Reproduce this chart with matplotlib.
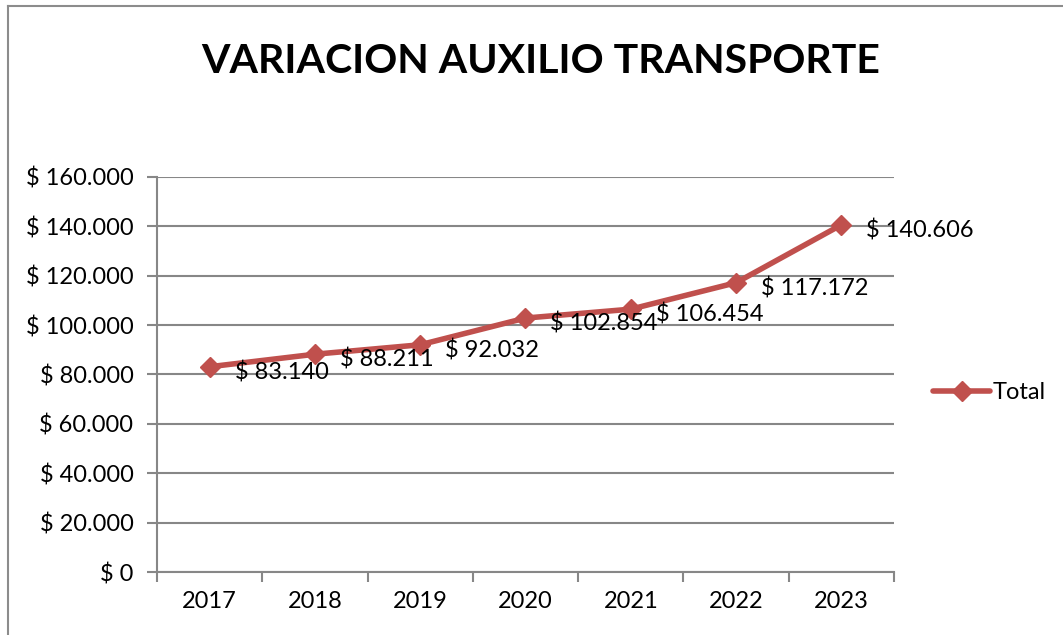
import matplotlib.pyplot as plt
from matplotlib.lines import Line2D
from matplotlib.ticker import FuncFormatter, FixedLocator

plt.rcParams["font.family"] = ["Lato", "DejaVu Sans"]

years = ["2017", "2018", "2019", "2020", "2021", "2022", "2023"]
totals = [83140, 88211, 92032, 102854, 106454, 117172, 140606]

LINE_COLOR = "#C0504D"
GRID_COLOR = "#878787"
FS = 17


def peso(v, pos=None):
    return "$ " + f"{int(v):,}".replace(",", ".")


fig = plt.figure(figsize=(10.63, 6.35), dpi=100)
ax = fig.add_axes([0.1477, 0.0992, 0.841 - 0.1477, 0.7213 - 0.0992])

x = list(range(len(years)))
ax.plot(x, totals, color=LINE_COLOR, lw=4, marker="D", markersize=10,
        label="Total", solid_capstyle="round")

for xi, v in zip(x, totals):
    ax.annotate(peso(v), (xi, v), xytext=(18, -4), textcoords="offset points",
                ha="left", va="center", fontsize=FS)

ax.set_xlim(-0.5, len(years) - 0.5)
ax.set_ylim(0, 160000)
ax.set_yticks(range(0, 160001, 20000))
ax.yaxis.set_major_formatter(FuncFormatter(peso))
ax.xaxis.set_major_locator(FixedLocator([i - 0.5 for i in range(len(years) + 1)]))
ax.xaxis.set_minor_locator(FixedLocator(x))
ax.set_xticklabels([])
ax.set_xticklabels(years, minor=True)
ax.tick_params(axis="x", which="major", length=7, color=GRID_COLOR, width=1.5)
ax.tick_params(axis="x", which="minor", length=0, pad=14, labelsize=FS)
ax.tick_params(axis="y", length=7, color=GRID_COLOR, width=1.5, pad=10, labelsize=FS)

ax.grid(axis="y", color=GRID_COLOR, lw=1.5)
ax.set_axisbelow(True)
for s in ["top", "right"]:
    ax.spines[s].set_visible(False)
for s in ["left", "bottom"]:
    ax.spines[s].set_color(GRID_COLOR)
    ax.spines[s].set_linewidth(1.5)

fig.text(0.509, 0.903, "VARIACION AUXILIO TRANSPORTE", ha="center", va="center",
         fontsize=29.5, fontweight="bold")

fig.legend(loc="center left", bbox_to_anchor=(0.869, 0.382), frameon=False,
           fontsize=FS, handlelength=2.4, handletextpad=0.1, borderaxespad=0)

# outer chart frame (left and top edges visible)
fig.add_artist(Line2D([0.0075, 0.0075], [0.0, 0.99], color="#8c8c8c", lw=1.5))
fig.add_artist(Line2D([0.0075, 1.0], [0.99, 0.99], color="#8c8c8c", lw=1.5))

fig.savefig("out.png", dpi=100)
